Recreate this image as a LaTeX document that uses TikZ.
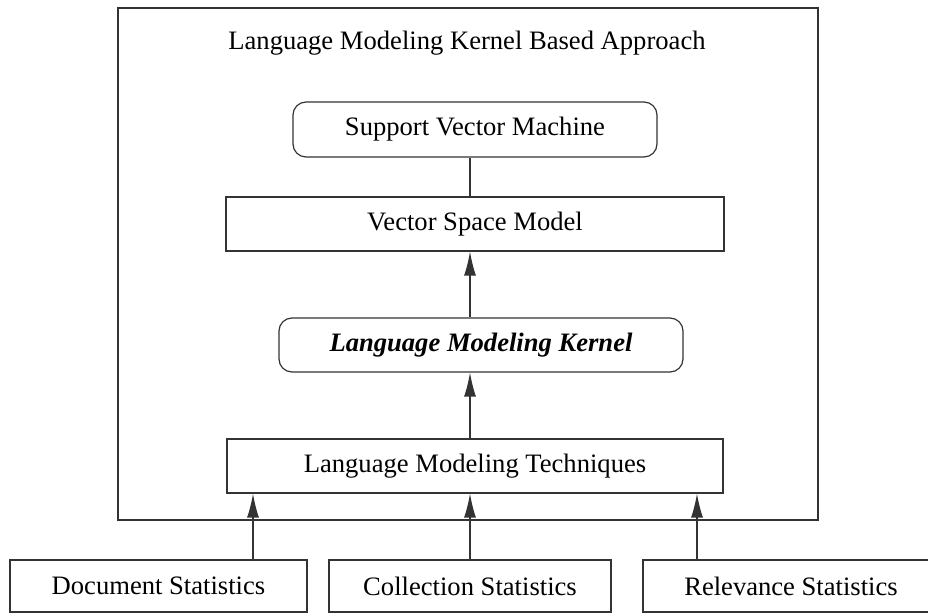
\documentclass[tikz,border=0pt]{standalone}
\usepackage{fontspec}
\setmainfont{Liberation Serif}
\usepackage{tikz}
\usetikzlibrary{arrows,arrows.meta,%
                shapes,positioning}

\begin{document}
\begin{tikzpicture}[x=0.5pt,y=-0.5pt,
  every node/.style={font=\fontsize{13.3}{16}\selectfont},
  box/.style={draw=black!80,line width=0.6pt,inner sep=0pt,minimum height=27pt},
  rbox/.style={box,rounded corners=6.5pt},
  link/.style={draw=black!80,line width=0.6pt},
  up/.style={link,-{Latex[length=12pt,width=6pt]}}]
\useasboundingbox (0,0) rectangle (928,614);

\node[box,minimum width=350pt,minimum height=256pt] (outer) at (468,264) {};
\node[anchor=base] (title) at (467,50) {Language Modeling Kernel Based Approach};

\node[rbox,minimum width=182pt,minimum height=27.5pt] (svm) at (475,129.5) {Support Vector Machine};
\node[box,minimum width=249pt] (vsm) at (475,224) {Vector Space Model};
\node[rbox,minimum width=202pt] (lmk) at (481,345) {\textbf{\textit{Language Modeling Kernel}}};
\node[box,minimum width=248pt] (lmt) at (475,466) {Language Modeling Techniques};

\node[box,minimum width=148.5pt,minimum height=26pt] (doc) at (158.5,586) {Document Statistics};
\node[box,minimum width=141pt,minimum height=26pt] (coll) at (470,586) {Collection Statistics};
\node[box,minimum width=148pt,minimum height=26pt] (rel) at (791,586) {Relevance Statistics};

\draw[link] (vsm.north -| coll) -- (svm.south -| coll);
\draw[up] (lmk.north -| coll) -- (vsm.south -| coll);
\draw[up] (lmt.north -| coll) -- (lmk.south -| coll);

\draw[up] ([xshift=47.25pt]doc.north) -- ([xshift=47.25pt]doc.north |- lmt.south);
\draw[up] (coll.north) -- (coll.north |- lmt.south);
\draw[up] ([xshift=-47pt]rel.north) -- ([xshift=-47pt]rel.north |- lmt.south);
\end{tikzpicture}
\end{document}
